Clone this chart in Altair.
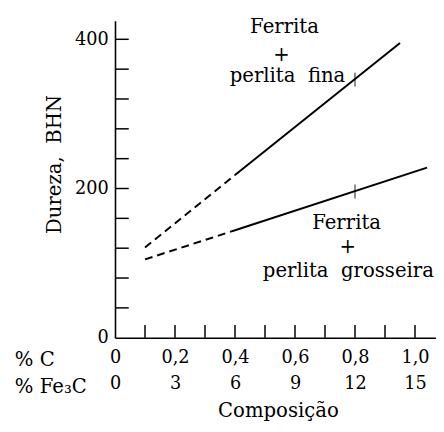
import json
import altair as alt
import pandas as pd

# ---- data ----
c_tick_values = [0.1, 0.2, 0.3, 0.4, 0.5, 0.6, 0.7, 0.8, 0.9, 1.0]
c_label_values = [0.0, 0.2, 0.4, 0.6, 0.8, 1.0]
c_labels = ["0", "0,2", "0,4", "0,6", "0,8", "1,0"]
fe3c_labels = ["0", "3", "6", "9", "12", "15"]
row_labels = ["% C", "% Fe\u2083C"]

y_tick_values = [40, 80, 120, 160, 200, 240, 280, 320, 360, 400]
y_label_values = [0, 200, 400]

fina_dash_x = [0.1, 0.4]
fina_dash_y = [121, 218]
fina_solid_x = [0.4, 0.95]
fina_solid_y = [218, 395]

gross_dash_x = [0.1, 0.4]
gross_dash_y = [105, 144]
gross_solid_x = [0.4, 1.04]
gross_solid_y = [144, 228]

marker_x = [0.8, 0.8]
marker_y = [346, 196]

annot_text = ["Ferrita", "+", "perlita\u00a0 fina", "Ferrita", "+", "perlita\u00a0 grosseira"]
annot_x = [0.565, 0.555, 0.575, 0.772, 0.776, 0.778]
annot_y = [417, 379, 350, 153, 122, 89]

FONT = "DejaVu Serif"
W, H = 327, 323

xs = alt.Scale(domain=[0, 1.07], nice=False, zero=False)
ys = alt.Scale(domain=[0, 425], nice=False, zero=False)

c_js = json.dumps(c_labels)
f_js = json.dumps(fe3c_labels)
label_expr = f"[{c_js}[round(datum.value*5)], {f_js}[round(datum.value*5)]]"

x_axis = alt.Axis(
    values=c_label_values, labelExpr=label_expr, ticks=False, grid=False,
    domain=True, domainColor="black", domainWidth=1.6,
    labelFont=FONT, labelFontSize=18, labelColor="black", labelPadding=11,
    labelLineHeight=27, labelFlush=False,
    title="Composição", titleFont=FONT, titleFontSize=20, titleFontWeight="normal",
    titleColor="black", titleY=74, titleX=166, titleBaseline="middle",
)
y_axis = alt.Axis(
    values=y_label_values, ticks=False, grid=False,
    domain=True, domainColor="black", domainWidth=1.6,
    labelFont=FONT, labelFontSize=18, labelColor="black", labelPadding=7,
    labelFlush=False,
    title="Dureza,\u00a0 BHN", titleFont=FONT, titleFontSize=20, titleFontWeight="normal",
    titleColor="#000000", titleX=-62, titleY=146, titleBaseline="middle", titleAlign="center",
    titleAngle=270,
)

def seg(xv, yv):
    return pd.DataFrame({"x": xv, "y": yv})

base_axes = alt.Chart(seg([0], [0])).mark_point(opacity=0).encode(
    x=alt.X("x:Q", scale=xs, axis=x_axis),
    y=alt.Y("y:Q", scale=ys, axis=y_axis),
)

def line(df, dash=None):
    kw = dict(color="black", strokeWidth=2)
    if dash:
        kw["strokeDash"] = dash
    return alt.Chart(df).mark_line(**kw).encode(
        x=alt.X("x:Q", scale=xs), y=alt.Y("y:Q", scale=ys))

l1 = line(seg(fina_dash_x, fina_dash_y), [8, 5])
l2 = line(seg(fina_solid_x, fina_solid_y))
l3 = line(seg(gross_dash_x, gross_dash_y), [8, 5])
l4 = line(seg(gross_solid_x, gross_solid_y))

markers = alt.Chart(seg(marker_x, marker_y)).mark_point(
    shape="M0,-1L0,1", size=200, filled=False, color="black", strokeWidth=1.3
).encode(x=alt.X("x:Q", scale=xs), y=alt.Y("y:Q", scale=ys))

yticks = alt.Chart(pd.DataFrame({"y": y_tick_values})).mark_rule(
    color="black", strokeWidth=1.5
).encode(y=alt.Y("y:Q", scale=ys), x=alt.value(0), x2=alt.value(14))

xticks = alt.Chart(pd.DataFrame({"x": c_tick_values})).mark_rule(
    color="black", strokeWidth=1.5
).encode(x=alt.X("x:Q", scale=xs), y=alt.value(H), y2=alt.value(H - 13))

annots = alt.Chart(pd.DataFrame({"t": annot_text, "x": annot_x, "y": annot_y})).mark_text(
    font=FONT, fontSize=20, color="black", align="center", baseline="middle"
).encode(x=alt.X("x:Q", scale=xs), y=alt.Y("y:Q", scale=ys), text="t:N")

row1 = alt.Chart(pd.DataFrame({"t": [row_labels[0]]})).mark_text(
    font=FONT, fontSize=20, color="black", align="left", baseline="middle"
).encode(text="t:N", x=alt.value(-102), y=alt.value(346))
row2 = alt.Chart(pd.DataFrame({"t": [row_labels[1]]})).mark_text(
    font=FONT, fontSize=20, color="black", align="left", baseline="middle"
).encode(text="t:N", x=alt.value(-102), y=alt.value(373))

chart = alt.layer(
    base_axes, yticks, xticks, l1, l2, l3, l4, markers, annots, row1, row2
).properties(
    width=W, height=H,
    autosize=alt.AutoSizeParams(type="none"),
    padding={"left": 109, "top": 9, "right": 0, "bottom": 84},
    background="white",
).configure_view(stroke=None)

chart.save("out.html", embed_options={"renderer": "svg", "actions": False})
